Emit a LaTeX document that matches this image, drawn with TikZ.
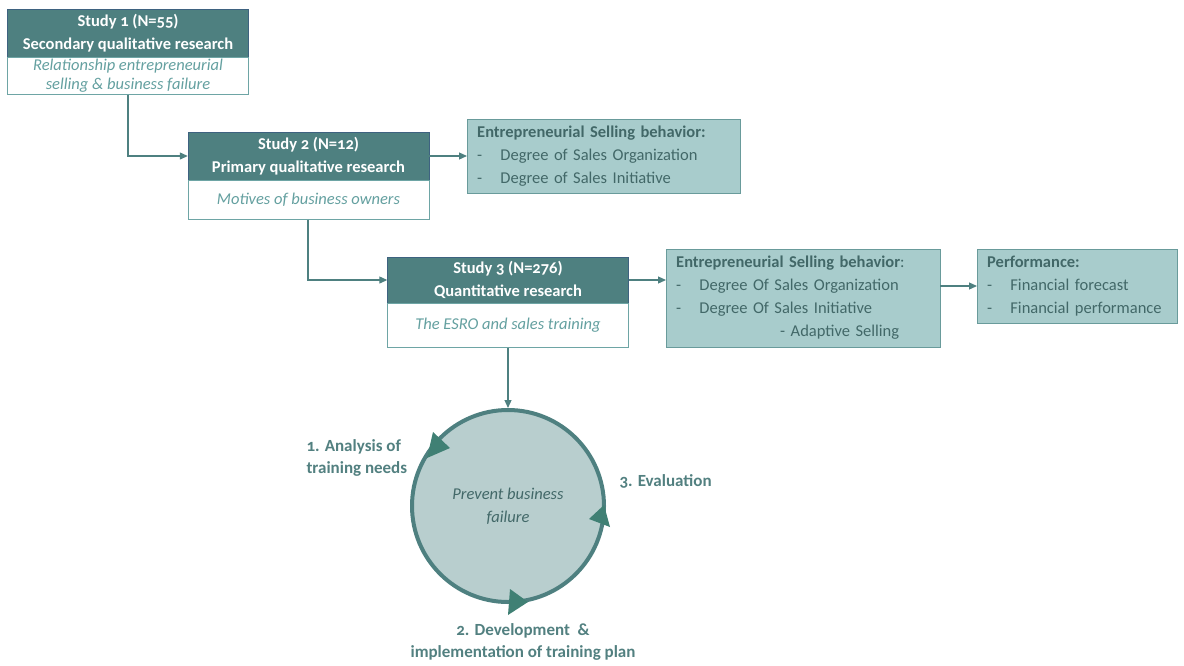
\documentclass[tikz,border=0pt]{standalone}
\usepackage{fontspec}
\setmainfont{Carlito}[Numbers=OldStyle]
\usetikzlibrary{arrows.meta,calc}
\definecolor{headteal}{RGB}{78,128,128}
\definecolor{headline}{RGB}{62,98,128}
\definecolor{subline}{RGB}{110,165,165}
\definecolor{boxteal}{RGB}{168,204,204}
\definecolor{boxline}{RGB}{105,155,155}
\definecolor{circteal}{RGB}{184,206,206}
\definecolor{textteal}{RGB}{100,160,160}
\definecolor{infotext}{RGB}{66,104,104}
\definecolor{labteal}{RGB}{82,128,128}
\definecolor{tipteal}{RGB}{64,128,116}
\newcommand{\txtsize}{\fontsize{16.5}{22.5}\selectfont}
\tikzset{
  head/.style={draw=headline, fill=headteal, text=white, font=\txtsize\bfseries,
    align=center, minimum width=241pt, inner sep=0pt},
  sub/.style={draw=subline, fill=white, text=textteal, font=\txtsize\itshape,
    align=center, minimum width=241pt, inner sep=0pt},
  info/.style={draw=boxline, fill=boxteal, text=infotext, align=left,
    font=\fontsize{16.5}{23}\selectfont, inner xsep=10pt, inner ysep=0pt, anchor=west},
  link/.style={headteal, line width=1.2pt, -{Triangle[length=8pt,width=7pt]}},
  lab/.style={text=labteal, font=\fontsize{17}{22.5}\selectfont\bfseries, align=left}
}
\begin{document}
\begin{tikzpicture}[x=1pt,y=1pt]
\useasboundingbox (0,0) rectangle (1184,-665);
% study boxes
\node [head, minimum height=48pt] (s1) at (128,-33) {Study 1 (N=55)\\Secondary qualitative research};
\node [sub, minimum height=37pt, anchor=north, font=\fontsize{16.5}{18.5}\selectfont\itshape] (s1b) at (s1.south)
  {Relationship entrepreneurial\\selling \&\ business failure};
\node [head, minimum height=48pt] (s2) at (308.5,-156) {Study 2 (N=12)\\Primary qualitative research};
\node [sub, minimum height=39pt, anchor=north] (s2b) at (s2.south) {Motives of business owners};
\node [head, minimum height=46pt] (s3) at (508,-280) {Study 3 (N=276)\\Quantitative research};
\node [sub, minimum height=44pt, anchor=north] (s3b) at (s3.south) {The ESRO and sales training};
% outcome boxes
\node [info, minimum width=273pt, minimum height=74pt, text width=253pt] (esb1) at (467,-156)
  {\textbf{Entrepreneurial Selling behavior:}\\
   -\hspace{1.1em}Degree of Sales Organization\\
   -\hspace{1.1em}Degree of Sales Initiative};
\node [info, minimum width=274pt, minimum height=98pt, text width=254pt] (esb2) at (666,-298)
  {\textbf{Entrepreneurial Selling behavior}:\\
   -\hspace{1.1em}Degree Of Sales Organization\\
   -\hspace{1.1em}Degree Of Sales Initiative\\
   \hspace*{6.3em}- Adaptive Selling};
\node [info, minimum width=200pt, minimum height=74pt, text width=180pt] (perf) at (977,-286)
  {\textbf{Performance:}\\
   -\hspace{1.1em}Financial forecast\\
   -\hspace{1.1em}Financial performance};
% training cycle
\node [circle, draw=headteal, line width=4pt, fill=circteal, minimum size=192pt,
  text=infotext, font=\txtsize\itshape, align=center] (cyc) at (508,-506) {Prevent business\\failure};
\fill [tipteal] (433,-432)--(450,-448)--(427,-458)--cycle;
\fill [tipteal] (510,-589)--(528,-602)--(508,-615)--cycle;
\fill [tipteal] (604,-505)--(610,-527)--(589,-519)--cycle;
\node [lab, anchor=west] (l1) at (303,-458) {1. Analysis of\\training needs};
\node [lab, anchor=west] (l3) at (616,-481) {3. Evaluation};
\node [lab, align=center] (l2) at (523,-642) {2. Development \ \&\\implementation of training plan};
% connectors
\draw [link] (s1b.south) |- (s2.west);
\draw [link] (s2b.south -| 308,0) |- (s3.west);
\draw [link] (s2.east) -- (esb1.west);
\draw [link] (s3.east) -- (esb2.west |- s3.east);
\draw [link] (esb2.east |- perf.west) -- (perf.west);
\draw [link] (s3b.south) -- (cyc.north);
\end{tikzpicture}
\end{document}
